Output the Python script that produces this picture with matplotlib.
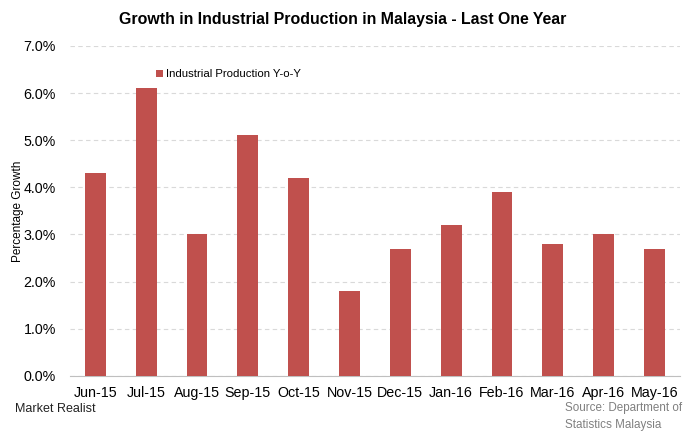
import matplotlib
matplotlib.use("Agg")
import matplotlib.pyplot as plt
from matplotlib.ticker import FuncFormatter, MultipleLocator

months = ["Jun-15", "Jul-15", "Aug-15", "Sep-15", "Oct-15", "Nov-15",
          "Dec-15", "Jan-16", "Feb-16", "Mar-16", "Apr-16", "May-16"]
ip_yoy = [4.3, 6.1, 3.0, 5.1, 4.2, 1.8, 2.7, 3.2, 3.9, 2.8, 3.0, 2.7]

plt.rcParams['font.family'] = ['Liberation Sans', 'DejaVu Sans']

fig = plt.figure(figsize=(6.86, 4.37), dpi=100)
ax = fig.add_axes([0.102, 0.140, 0.889, 0.755])

x = list(range(len(months)))
ax.bar(x, ip_yoy, width=0.41, color="#C0504D", label="Industrial Production Y-o-Y", zorder=3)

ax.set_xlim(-0.5, len(months) - 0.5)
ax.set_ylim(0, 7.0)
ax.yaxis.set_major_locator(MultipleLocator(1.0))
ax.yaxis.set_major_formatter(FuncFormatter(lambda v, p: f"{v:.1f}%"))
ax.grid(axis="y", color="#D9D9D9", linestyle=(0, (4, 3)), linewidth=0.8, zorder=0)
ax.set_xticks(x)
ax.set_xticklabels(months)
ax.tick_params(axis="both", length=0, labelsize=10.3, colors="#000000")
ax.tick_params(axis="x", pad=7)
ax.tick_params(axis="y", pad=10)
for s in ["top", "right", "left"]:
    ax.spines[s].set_visible(False)
ax.spines["bottom"].set_color("#BFBFBF")
ax.set_ylabel("Percentage Growth", fontsize=8.5, labelpad=4)
ax.yaxis.set_label_coords(-0.075, 0.5)

leg = ax.legend(loc="upper left", bbox_to_anchor=(0.125, 0.96), frameon=False,
                fontsize=8.2, handlelength=0.55, handleheight=0.55, handletextpad=0.3)

fig.text(0.5, 0.955, "Growth in Industrial Production in Malaysia - Last One Year",
         ha="center", va="center", fontsize=11.4, fontweight="bold")
fig.text(0.022, 0.063, "Market Realist", fontsize=9, color="#222222", va="center")
fig.text(0.823, 0.066, "Source: Department of", fontsize=8.4, color="#808080", va="center")
fig.text(0.823, 0.027, "Statistics Malaysia", fontsize=8.4, color="#808080", va="center")

fig.savefig("out.png", dpi=100)
